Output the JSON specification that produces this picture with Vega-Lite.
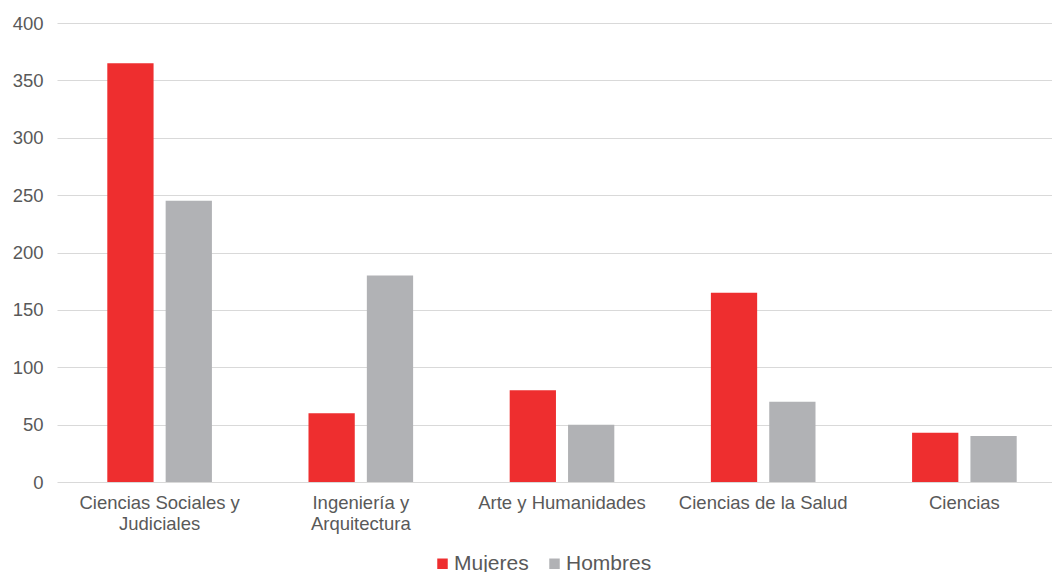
{
  "$schema": "https://vega.github.io/schema/vega-lite/v6.json",
  "width": 1052,
  "height": 459,
  "autosize": {"type": "fit-x", "contains": "padding"},
  "padding": {"left": 12, "top": 14, "right": 0, "bottom": 40},
  "background": "white",
  "config": {
    "font": "Liberation Sans",
    "view": {"stroke": null}
  },
  "data": {
    "values": [
      {"area": "Ciencias Sociales y Judiciales", "sexo": "Mujeres", "valor": 365},
      {"area": "Ciencias Sociales y Judiciales", "sexo": "Hombres", "valor": 245},
      {"area": "Ingeniería y Arquitectura", "sexo": "Mujeres", "valor": 60},
      {"area": "Ingeniería y Arquitectura", "sexo": "Hombres", "valor": 180},
      {"area": "Arte y Humanidades", "sexo": "Mujeres", "valor": 80},
      {"area": "Arte y Humanidades", "sexo": "Hombres", "valor": 50},
      {"area": "Ciencias de la Salud", "sexo": "Mujeres", "valor": 165},
      {"area": "Ciencias de la Salud", "sexo": "Hombres", "valor": 70},
      {"area": "Ciencias", "sexo": "Mujeres", "valor": 43},
      {"area": "Ciencias", "sexo": "Hombres", "valor": 40}
    ]
  },
  "mark": {"type": "bar"},
  "encoding": {
    "x": {
      "field": "area",
      "type": "nominal",
      "sort": null,
      "title": null,
      "scale": {"range": [0, 1010], "paddingInner": 0.48, "paddingOuter": 0.25},
      "axis": {
        "labelAngle": 0,
        "labelFontSize": 18.5,
        "labelColor": "#595959",
        "labelPadding": 11,
        "ticks": false,
        "domain": false,
        "labelLineHeight": 21,
        "labelExpr": "datum.label == 'Ciencias Sociales y Judiciales' ? ['Ciencias Sociales y', 'Judiciales'] : datum.label == 'Ingeniería y Arquitectura' ? ['Ingeniería y', 'Arquitectura'] : datum.label"
      }
    },
    "xOffset": {
      "field": "sexo",
      "type": "nominal",
      "sort": ["Mujeres", "Hombres"],
      "scale": {"paddingInner": 0.207, "paddingOuter": 0}
    },
    "y": {
      "field": "valor",
      "type": "quantitative",
      "title": null,
      "scale": {"domain": [0, 400]},
      "axis": {
        "values": [0, 50, 100, 150, 200, 250, 300, 350, 400],
        "labelFontSize": 18.5,
        "labelColor": "#595959",
        "labelPadding": 14,
        "ticks": false,
        "domain": false,
        "gridColor": "#D9D9D9"
      }
    },
    "color": {
      "field": "sexo",
      "type": "nominal",
      "sort": ["Mujeres", "Hombres"],
      "scale": {"domain": ["Mujeres", "Hombres"], "range": ["#EE2E2F", "#B1B2B5"]},
      "legend": {
        "title": null,
        "orient": "none",
        "legendX": 375,
        "legendY": 530,
        "direction": "horizontal",
        "symbolType": "square",
        "symbolSize": 110,
        "labelFontSize": 21,
        "labelColor": "#595959",
        "labelOffset": 1,
        "columnPadding": 15
      }
    }
  }
}
